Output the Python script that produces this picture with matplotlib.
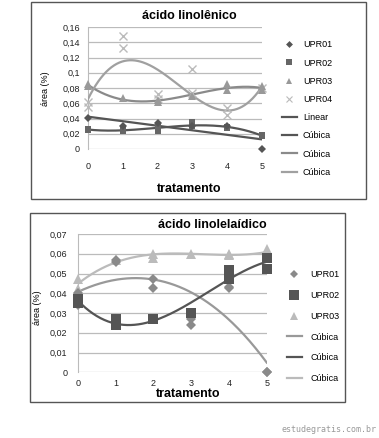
import numpy as np
import matplotlib
matplotlib.use("Agg")
import matplotlib.pyplot as plt
from matplotlib.patches import Rectangle
from matplotlib.lines import Line2D

plt.rcParams['font.family'] = ['Liberation Sans', 'DejaVu Sans']

# ---------------- data: top chart (ácido linolênico) ----------------
top_title = "ácido linolênico"
upr01_top_x = [0, 1, 2, 3, 4, 5]
upr01_top_y = [0.041, 0.030, 0.034, 0.030, 0.030, 0.000]
upr02_top_x = [0, 0, 1, 1, 2, 2, 3, 3, 4, 4, 5, 5]
upr02_top_y = [0.025, 0.026, 0.026, 0.024, 0.024, 0.029, 0.035, 0.030, 0.027, 0.029, 0.018, 0.017]
upr03_top_x = [0, 0, 1, 2, 2, 3, 4, 4, 5, 5]
upr03_top_y = [0.085, 0.083, 0.067, 0.062, 0.064, 0.069, 0.085, 0.078, 0.082, 0.077]
upr04_top_x = [0, 0, 1, 1, 2, 2, 3, 3, 4, 4, 5]
upr04_top_y = [0.061, 0.055, 0.148, 0.133, 0.072, 0.066, 0.105, 0.073, 0.054, 0.044, 0.080]
top_yticks = [0, 0.02, 0.04, 0.06, 0.08, 0.1, 0.12, 0.14, 0.16]
top_ylabels = ["0", "0,02", "0,04", "0,06", "0,08", "0,1", "0,12", "0,14", "0,16"]
top_legend = ["UPR01", "UPR02", "UPR03", "UPR04", "Linear", "Cúbica", "Cúbica", "Cúbica"]

# ---------------- data: bottom chart (ácido linolelaídico) ----------------
bot_title = "ácido linolelaídico"
upr01_bot_x = [0, 0, 1, 1, 2, 2, 3, 3, 4, 4, 5, 5]
upr01_bot_y = [0.034, 0.040, 0.057, 0.056, 0.047, 0.0425, 0.027, 0.024, 0.043, 0.0425, 0.000, 0.000]
upr02_bot_x = [0, 0, 1, 1, 2, 3, 4, 4, 5, 5]
upr02_bot_y = [0.037, 0.035, 0.027, 0.024, 0.027, 0.030, 0.052, 0.047, 0.058, 0.0525]
upr03_bot_x = [0, 0, 1, 2, 2, 3, 4, 4, 5, 5]
upr03_bot_y = [0.047, 0.042, 0.057, 0.060, 0.058, 0.060, 0.060, 0.0595, 0.0625, 0.059]
bot_yticks = [0, 0.01, 0.02, 0.03, 0.04, 0.05, 0.06, 0.07]
bot_ylabels = ["0", "0,01", "0,02", "0,03", "0,04", "0,05", "0,06", "0,07"]
bot_legend = ["UPR01", "UPR02", "UPR03", "Cúbica", "Cúbica", "Cúbica"]

xticks = [0, 1, 2, 3, 4, 5]
xlabel = "tratamento"
ylabel = "área (%)"
watermark = "estudegratis.com.br"

W, H = 379, 438
fig = plt.figure(figsize=(W / 100, H / 100), dpi=100)


def px_axes(x0, y_top, x1, y_bot):
    return fig.add_axes([x0 / W, 1 - y_bot / H, (x1 - x0) / W, (y_bot - y_top) / H])


def box(x0, y0, x1, y1):
    fig.patches.append(Rectangle((x0 / W, 1 - y1 / H), (x1 - x0) / W, (y1 - y0) / H,
                                 transform=fig.transFigure, fill=False,
                                 edgecolor="#555555", lw=1.0))


def style(ax, yticks, ylabels, ymax, xpad, ypad):
    ax.set_xlim(0, 5)
    ax.set_ylim(0, ymax)
    ax.set_yticks(yticks)
    ax.set_yticklabels(ylabels, fontsize=6.5, color="#222222")
    ax.set_xticks(xticks)
    ax.set_xticklabels([str(t) for t in xticks], fontsize=6.5, color="#222222")
    for s in ["top", "right", "bottom"]:
        ax.spines[s].set_visible(False)
    ax.spines["left"].set_color("#bbbbbb")
    ax.tick_params(axis="x", length=0, pad=xpad)
    ax.tick_params(axis="y", length=0, pad=ypad)
    ax.grid(axis="y", color="#bbbbbb", lw=0.9)
    ax.set_axisbelow(True)


def fitline(ax, xs, ys, deg, color):
    c = np.polyfit(xs, ys, deg)
    xx = np.linspace(0, 5, 200)
    ax.plot(xx, np.polyval(c, xx), color=color, lw=1.6, zorder=3)


def labels(ax, x_c, y_c, ylx, yly, ax_px):
    x0, y_top, x1, y_bot = ax_px
    ax.set_xlabel(xlabel, fontsize=9, fontweight="bold")
    ax.xaxis.set_label_coords((x_c - x0) / (x1 - x0), -(y_c - y_bot) / (y_bot - y_top))
    ax.xaxis.label.set_va("center")
    ax.set_ylabel(ylabel, fontsize=6.5)
    ax.yaxis.set_label_coords((ylx - x0) / (x1 - x0), (y_bot - yly) / (y_bot - y_top))
    ax.yaxis.label.set_va("center")


# ---------------- top chart ----------------
box(31, 2, 366, 199)
top_px = (87.7, 27, 262.3, 149)
ax1 = px_axes(*top_px)
style(ax1, top_yticks, top_ylabels, 0.16, 9.5, 5.5)
c01, c02, c03, c04 = "#555555", "#666666", "#999999", "#bbbbbb"
l_lin, l_c2, l_c3, l_c4 = "#555555", "#555555", "#8a8a8a", "#a0a0a0"
ax1.plot(upr04_top_x, upr04_top_y, "x", color=c04, ms=6, mew=1.0, clip_on=False, zorder=4)
ax1.plot(upr03_top_x, upr03_top_y, "^", color=c03, ms=5.5, mew=0, clip_on=False, zorder=4)
ax1.plot(upr02_top_x, upr02_top_y, "s", color=c02, ms=5, mew=0, clip_on=False, zorder=4)
ax1.plot(upr01_top_x, upr01_top_y, "D", color=c01, ms=4, mew=0, clip_on=False, zorder=4)
fitline(ax1, upr01_top_x, upr01_top_y, 1, l_lin)
fitline(ax1, upr02_top_x, upr02_top_y, 3, l_c2)
fitline(ax1, upr03_top_x, upr03_top_y, 3, l_c3)
fitline(ax1, upr04_top_x, upr04_top_y, 3, l_c4)
fig.text(189.5 / W, 1 - 16 / H, top_title, fontsize=9, fontweight="bold",
         ha="center", va="center")
labels(ax1, 188.7, 189, 45, 89, top_px)

h1 = [Line2D([], [], ls="", marker="D", color=c01, ms=3.5, mew=0),
      Line2D([], [], ls="", marker="s", color=c02, ms=4.5, mew=0),
      Line2D([], [], ls="", marker="^", color=c03, ms=5, mew=0),
      Line2D([], [], ls="", marker="x", color=c04, ms=5, mew=0.8),
      Line2D([], [], color=l_lin, lw=1.6),
      Line2D([], [], color=l_c2, lw=1.6),
      Line2D([], [], color=l_c3, lw=1.6),
      Line2D([], [], color=l_c4, lw=1.6)]
fig.legend(h1, top_legend, loc="upper left", bbox_to_anchor=(282 / W, 1 - 40.4 / H),
           frameon=False, fontsize=6.5, handlelength=1.66, handletextpad=0.66,
           labelspacing=1.02, borderaxespad=0, borderpad=0)

# ---------------- bottom chart ----------------
box(30, 213, 345, 402)
bot_px = (77.7, 234, 266.7, 372.3)
ax2 = px_axes(*bot_px)
style(ax2, bot_yticks, bot_ylabels, 0.07, 4.8, 7.5)
b01, b02, b03 = "#8a8a8a", "#555555", "#bbbbbb"
ax2.plot(upr03_bot_x, upr03_bot_y, "^", color=b03, ms=7, mew=0, clip_on=False, zorder=4)
ax2.plot(upr01_bot_x, upr01_bot_y, "D", color=b01, ms=5, mew=0, clip_on=False, zorder=4)
ax2.plot(upr02_bot_x, upr02_bot_y, "s", color=b02, ms=7, mew=0, clip_on=False, zorder=4)
fitline(ax2, upr01_bot_x, upr01_bot_y, 3, "#999999")
fitline(ax2, upr02_bot_x, upr02_bot_y, 3, "#555555")
fitline(ax2, upr03_bot_x, upr03_bot_y, 3, "#bbbbbb")
fig.text(212.5 / W, 1 - 225 / H, bot_title, fontsize=9, fontweight="bold",
         ha="center", va="center")
labels(ax2, 188, 394, 37, 308, bot_px)

h2 = [Line2D([], [], ls="", marker="D", color=b01, ms=4.5, mew=0),
      Line2D([], [], ls="", marker="s", color=b02, ms=6.5, mew=0),
      Line2D([], [], ls="", marker="^", color=b03, ms=6, mew=0),
      Line2D([], [], color="#999999", lw=1.6),
      Line2D([], [], color="#555555", lw=1.6),
      Line2D([], [], color="#bbbbbb", lw=1.6)]
fig.legend(h2, bot_legend, loc="upper left", bbox_to_anchor=(287 / W, 1 - 270.4 / H),
           frameon=False, fontsize=6.5, handlelength=1.66, handletextpad=0.9,
           labelspacing=1.3, borderaxespad=0, borderpad=0)

fig.text(377 / W, 1 - 430 / H, watermark, ha="right", va="center",
         fontsize=6, color="#999999", family=["DejaVu Sans Mono", "DejaVu Sans"])

fig.savefig("out.png", dpi=100)
